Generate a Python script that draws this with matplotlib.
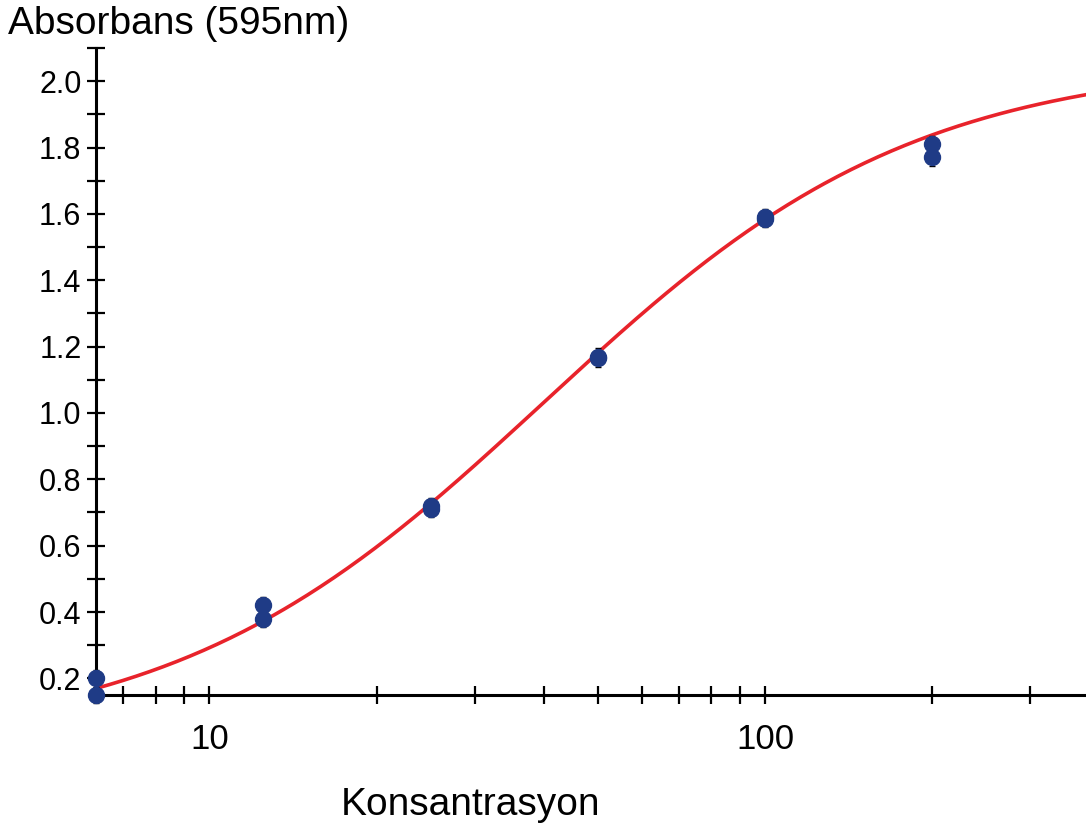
import numpy as np
import matplotlib
matplotlib.use("Agg")
import matplotlib.pyplot as plt
from matplotlib.ticker import FixedLocator, NullFormatter, FixedFormatter

plt.rcParams['font.family'] = ['Liberation Sans', 'DejaVu Sans']

# measured points (two replicates per concentration)
conc = [6.25, 6.25, 12.5, 12.5, 25, 25, 50, 50, 100, 100, 200, 200]
absorb = [0.20, 0.15, 0.42, 0.38, 0.72, 0.71, 1.17, 1.165, 1.59, 1.585, 1.81, 1.77]
err = [0.025] * len(conc)

# 4PL fit parameters (bottom, top, ec50, hill)
fit_bottom = 0.0
fit_top = 2.065
fit_ec50 = 40.0
fit_hill = 1.3

y_major = [0.2, 0.4, 0.6, 0.8, 1.0, 1.2, 1.4, 1.6, 1.8, 2.0]
y_minor = [0.3, 0.5, 0.7, 0.9, 1.1, 1.3, 1.5, 1.7, 1.9, 2.1]
x_major = [10, 100]
x_minor = [7, 8, 9, 20, 30, 40, 50, 60, 70, 80, 90, 200, 300]

fig = plt.figure(figsize=(10.86, 8.35), dpi=100)
ax = fig.add_axes([0.0884, 0.1677, 0.9116, 0.7748])

xs = np.logspace(np.log10(6.25), np.log10(400), 300)
ys = fit_bottom + (fit_top - fit_bottom) / (1 + (fit_ec50 / xs) ** fit_hill)
ax.plot(xs, ys, color='#e8232b', lw=2.6, zorder=2)

ax.errorbar(conc, absorb, yerr=err, fmt='o', color='#1f3b86', ms=11.5,
            ecolor='black', elinewidth=1.5, capsize=2, zorder=3, clip_on=False)

ax.set_xscale('log')
ax.set_xlim(6.25, 378)
ax.set_ylim(0.15, 2.1)

for s in ['top', 'right']:
    ax.spines[s].set_visible(False)
for s in ['left', 'bottom']:
    ax.spines[s].set_linewidth(2.2)

ax.xaxis.set_major_locator(FixedLocator(x_major))
ax.xaxis.set_major_formatter(FixedFormatter(['10', '100']))
ax.xaxis.set_minor_locator(FixedLocator(x_minor))
ax.xaxis.set_minor_formatter(NullFormatter())
ax.yaxis.set_major_locator(FixedLocator(y_major))
ax.yaxis.set_major_formatter(FixedFormatter(['%.1f' % v for v in y_major]))
ax.yaxis.set_minor_locator(FixedLocator(y_minor))

ax.tick_params(which='both', direction='inout', length=13, width=1.6, color='black')
ax.tick_params(axis='x', which='major', labelsize=25, pad=14)
ax.tick_params(axis='y', which='major', labelsize=22, pad=4)

fig.text(8 / 1086, 1 - 24 / 835, 'Absorbans (595nm)', fontsize=28, ha='left', va='center')
fig.text(471 / 1086, 1 - 805 / 835, 'Konsantrasyon', fontsize=28, ha='center', va='center')

fig.savefig('out.png', dpi=100)
